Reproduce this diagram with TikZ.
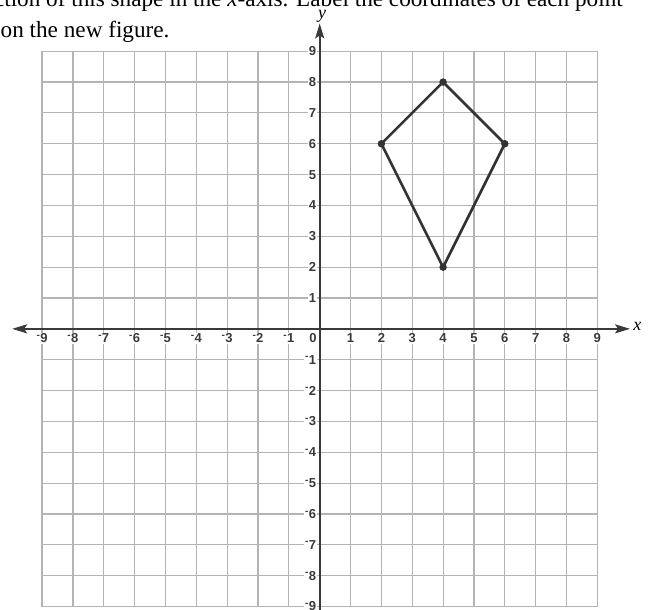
\documentclass[tikz,border=0pt]{standalone}
\usepackage{fontspec}
\setmainfont{Liberation Serif}
\newfontfamily\labfont{Liberation Sans}
\usetikzlibrary{arrows.meta}
\definecolor{gridc}{HTML}{B4B4B4}
\definecolor{axc}{HTML}{3A3A3A}
\definecolor{kitec}{HTML}{333333}
\newcommand\negnum[1]{\raisebox{0.33em}{\fontsize{10}{10}\selectfont -}\kern0.3pt#1}
\begin{document}
\begin{tikzpicture}[x=1pt,y=-1pt,
  gridline/.style={draw=gridc,line width=1.2pt},
  axisline/.style={draw=axc,line width=1.8pt,>={Stealth[length=15pt,width=9pt,inset=3pt]}},
  ticklab/.style={font=\labfont\bfseries\fontsize{13}{13}\selectfont,text=axc,fill=white,inner sep=1pt},
  axlab/.style={font=\itshape\fontsize{18}{18}\selectfont,inner sep=0pt},
  question/.style={font=\fontsize{23.2}{28}\selectfont,inner sep=0pt},
  kiteline/.style={draw=kitec,line width=2.6pt,line join=round},
  vdot/.style={circle,fill=kitec,inner sep=0pt,minimum size=7.5pt}]
\useasboundingbox (0,0) rectangle (654,610);
\clip (0,0) rectangle (654,610);
% question text (cropped at the top of the picture)
\node[question,anchor=base east] (q1) at (623,6.5) {reflection of this shape in the \textit{x}-axis. Label the coordinates of each point};
\node[question,anchor=base west] (q2) at (0.5,38) {on the new figure.};
\begin{scope}[shift={(319.7,328.85)},x=30.85pt,y=30.85pt]
  % grid
  \foreach \i in {-9,...,9} {
    \draw[gridline] (\i,-9) -- (\i,9);
    \draw[gridline] (-9,\i) -- (9,\i);
  }
  % tick labels
  \foreach \i in {1,...,9} {
    \node[ticklab] (xp\i) at (\i,-0.31) {\i};
    \node[ticklab] (xn\i) at (-\i,-0.31) {\negnum{\i}};
    \node[ticklab,anchor=east] (yp\i) at (-0.08,\i) {\i};
    \node[ticklab,anchor=east] (yn\i) at (-0.08,-\i) {\negnum{\i}};
  }
  \node[ticklab] (x0) at (-0.22,-0.31) {0};
  % axes
  \coordinate (xL) at (-9.97,0);
  \coordinate (xR) at (10.06,0);
  \coordinate (yT) at (0,9.9);
  \coordinate (yB) at (0,-10.6);
  \draw[axisline,<->] (xL) -- (xR);
  \draw[axisline,->] (yB) -- (yT);
  \node[axlab] (xlab) at (10.3,0.07) {x};
  \node[axlab] (ylab) at (0.08,10.12) {y};
  % kite
  \node[vdot] (A) at (4,8) {};
  \node[vdot] (B) at (6,6) {};
  \node[vdot] (C) at (4,2) {};
  \node[vdot] (D) at (2,6) {};
  \draw[kiteline] (A.center) -- (B.center) -- (C.center) -- (D.center) -- cycle;
\end{scope}
\end{tikzpicture}
\end{document}
